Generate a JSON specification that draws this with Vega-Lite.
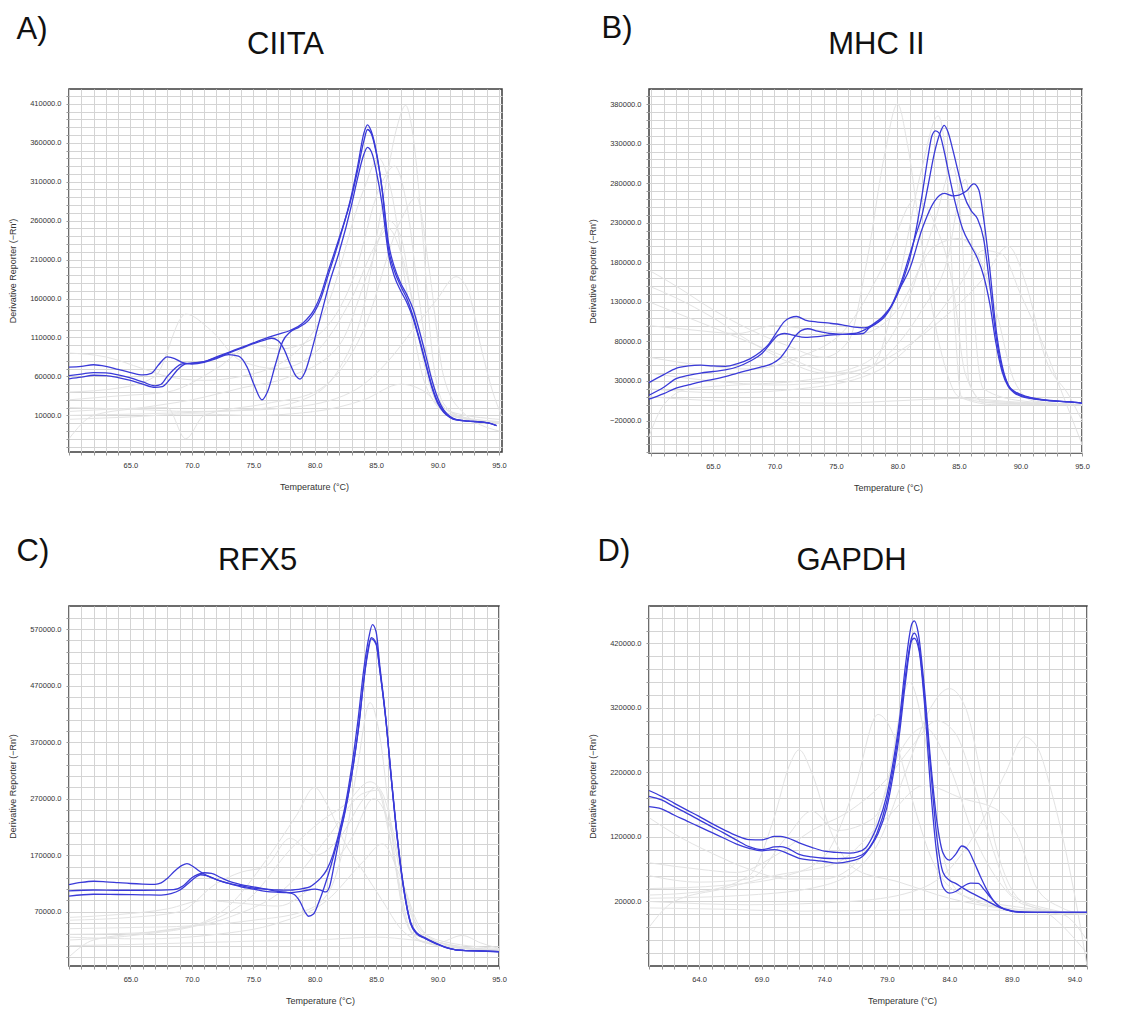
{
"$schema":"https://vega.github.io/schema/vega-lite/v6.json",
"background":"white",
"padding":{"left":7,"top":11,"right":5,"bottom":5},
"config":{
"axis":{"gridColor":"#d4d4d4","gridWidth":1,"domain":false,"tickColor":"#9a9a9a","tickSize":3,"labelFont":"Liberation Sans","labelFontSize":7.5,"labelColor":"#333333","labelOverlap":false,"titleFont":"Liberation Sans","titleFontSize":9,"titleFontWeight":"normal","titleColor":"#333333"},
"axisX":{"labelPadding":6,"titlePadding":14,"labelFlush":false},
"axisY":{"labelPadding":5,"minExtent":40,"maxExtent":40,"titlePadding":12},
"view":{"stroke":"#3c3c3c","strokeWidth":1.5},
"line":{"interpolate":"monotone","clip":true}
},
"datasets":{
"Ab":[
{"c":1,"t":60,"v":72000},{"c":1,"t":61,"v":73000},{"c":1,"t":62,"v":75000},{"c":1,"t":63,"v":73000},{"c":1,"t":64,"v":69000},{"c":1,"t":65,"v":65000},{"c":1,"t":66,"v":62000},{"c":1,"t":66.7,"v":64000},{"c":1,"t":67.3,"v":75000},{"c":1,"t":68,"v":85000},{"c":1,"t":68.6,"v":83000},{"c":1,"t":69.2,"v":78000},{"c":1,"t":70,"v":76000},{"c":1,"t":71,"v":78000},{"c":1,"t":72,"v":83000},{"c":1,"t":73,"v":88000},{"c":1,"t":73.8,"v":86000},{"c":1,"t":74.5,"v":72000},{"c":1,"t":75.1,"v":48000},{"c":1,"t":75.7,"v":30000},{"c":1,"t":76.2,"v":42000},{"c":1,"t":76.8,"v":75000},{"c":1,"t":77.4,"v":105000},{"c":1,"t":78,"v":117000},{"c":1,"t":78.7,"v":123000},{"c":1,"t":79.5,"v":132000},{"c":1,"t":80,"v":143000},{"c":1,"t":80.5,"v":160000},{"c":1,"t":81,"v":185000},{"c":1,"t":82,"v":235000},{"c":1,"t":83,"v":293000},{"c":1,"t":83.5,"v":330000},{"c":1,"t":84,"v":372000},{"c":1,"t":84.3,"v":383000},{"c":1,"t":84.6,"v":375000},{"c":1,"t":85,"v":350000},{"c":1,"t":85.5,"v":300000},{"c":1,"t":86,"v":232000},{"c":1,"t":86.5,"v":200000},{"c":1,"t":87,"v":180000},{"c":1,"t":87.5,"v":165000},{"c":1,"t":88,"v":147000},{"c":1,"t":88.5,"v":120000},{"c":1,"t":89,"v":90000},{"c":1,"t":89.5,"v":58000},{"c":1,"t":90,"v":33000},{"c":1,"t":90.5,"v":17000},{"c":1,"t":91,"v":9000},{"c":1,"t":91.5,"v":5000},{"c":1,"t":92.5,"v":2700},{"c":1,"t":93.5,"v":1500},{"c":1,"t":94.2,"v":0},{"c":1,"t":94.8,"v":-3000},
{"c":2,"t":60,"v":61000},{"c":2,"t":61,"v":63000},{"c":2,"t":62,"v":65000},{"c":2,"t":63,"v":64500},{"c":2,"t":64,"v":62000},{"c":2,"t":65,"v":58000},{"c":2,"t":66,"v":53000},{"c":2,"t":67,"v":48000},{"c":2,"t":67.5,"v":50000},{"c":2,"t":68,"v":60000},{"c":2,"t":68.6,"v":70000},{"c":2,"t":69.2,"v":76000},{"c":2,"t":70,"v":77000},{"c":2,"t":71,"v":79000},{"c":2,"t":72,"v":85000},{"c":2,"t":73,"v":91000},{"c":2,"t":74,"v":97000},{"c":2,"t":75,"v":103000},{"c":2,"t":76,"v":109000},{"c":2,"t":77,"v":114000},{"c":2,"t":78,"v":119000},{"c":2,"t":79,"v":128000},{"c":2,"t":80,"v":147000},{"c":2,"t":80.5,"v":165000},{"c":2,"t":81,"v":190000},{"c":2,"t":82,"v":238000},{"c":2,"t":83,"v":290000},{"c":2,"t":83.5,"v":325000},{"c":2,"t":84,"v":362000},{"c":2,"t":84.3,"v":377000},{"c":2,"t":84.6,"v":372000},{"c":2,"t":85,"v":348000},{"c":2,"t":85.5,"v":298000},{"c":2,"t":86,"v":225000},{"c":2,"t":86.5,"v":195000},{"c":2,"t":87,"v":176000},{"c":2,"t":87.5,"v":160000},{"c":2,"t":88,"v":138000},{"c":2,"t":88.5,"v":110000},{"c":2,"t":89,"v":80000},{"c":2,"t":89.5,"v":50000},{"c":2,"t":90,"v":28000},{"c":2,"t":90.5,"v":15000},{"c":2,"t":91,"v":8000},{"c":2,"t":91.5,"v":4500},{"c":2,"t":92.5,"v":2700},{"c":2,"t":93.5,"v":1500},{"c":2,"t":94.2,"v":0},{"c":2,"t":94.8,"v":-3000},
{"c":3,"t":60,"v":57000},{"c":3,"t":61,"v":59000},{"c":3,"t":62,"v":61500},{"c":3,"t":63,"v":61000},{"c":3,"t":64,"v":58500},{"c":3,"t":65,"v":55000},{"c":3,"t":66,"v":50000},{"c":3,"t":67,"v":46000},{"c":3,"t":67.6,"v":47000},{"c":3,"t":68.2,"v":56000},{"c":3,"t":68.8,"v":68000},{"c":3,"t":69.5,"v":76000},{"c":3,"t":70,"v":77000},{"c":3,"t":71,"v":79000},{"c":3,"t":72,"v":84000},{"c":3,"t":73,"v":90000},{"c":3,"t":74,"v":96000},{"c":3,"t":75,"v":102000},{"c":3,"t":76,"v":107000},{"c":3,"t":76.5,"v":109000},{"c":3,"t":77,"v":106000},{"c":3,"t":77.5,"v":95000},{"c":3,"t":78,"v":76000},{"c":3,"t":78.5,"v":60000},{"c":3,"t":78.8,"v":56500},{"c":3,"t":79.2,"v":65000},{"c":3,"t":79.7,"v":90000},{"c":3,"t":80.2,"v":120000},{"c":3,"t":80.7,"v":150000},{"c":3,"t":81.2,"v":180000},{"c":3,"t":82,"v":220000},{"c":3,"t":83,"v":280000},{"c":3,"t":83.5,"v":315000},{"c":3,"t":84,"v":345000},{"c":3,"t":84.3,"v":354000},{"c":3,"t":84.7,"v":345000},{"c":3,"t":85,"v":325000},{"c":3,"t":85.5,"v":280000},{"c":3,"t":86,"v":218000},{"c":3,"t":86.5,"v":188000},{"c":3,"t":87,"v":170000},{"c":3,"t":87.5,"v":155000},{"c":3,"t":88,"v":135000},{"c":3,"t":88.5,"v":108000},{"c":3,"t":89,"v":78000},{"c":3,"t":89.5,"v":48000},{"c":3,"t":90,"v":26000},{"c":3,"t":90.5,"v":14000},{"c":3,"t":91,"v":7500},{"c":3,"t":91.5,"v":4200},{"c":3,"t":92.5,"v":2700},{"c":3,"t":93.5,"v":1500},{"c":3,"t":94.2,"v":0},{"c":3,"t":94.8,"v":-3000}
],
"Ag":[
{"c":1,"t":60,"v":20000},{"c":1,"t":65,"v":18000},{"c":1,"t":70,"v":15000},{"c":1,"t":75,"v":18000},{"c":1,"t":79,"v":30000},{"c":1,"t":82,"v":70000},{"c":1,"t":84,"v":150000},{"c":1,"t":85.5,"v":280000},{"c":1,"t":86.7,"v":380000},{"c":1,"t":87.4,"v":408000},{"c":1,"t":88,"v":370000},{"c":1,"t":88.8,"v":240000},{"c":1,"t":89.5,"v":100000},{"c":1,"t":90.5,"v":25000},{"c":1,"t":92,"v":8000},{"c":1,"t":95,"v":0},
{"c":2,"t":60,"v":40000},{"c":2,"t":64,"v":45000},{"c":2,"t":67,"v":60000},{"c":2,"t":69.5,"v":140000},{"c":2,"t":71.5,"v":120000},{"c":2,"t":74,"v":80000},{"c":2,"t":77,"v":70000},{"c":2,"t":80,"v":90000},{"c":2,"t":83,"v":160000},{"c":2,"t":85,"v":230000},{"c":2,"t":86,"v":250000},{"c":2,"t":87,"v":220000},{"c":2,"t":88.5,"v":120000},{"c":2,"t":90,"v":30000},{"c":2,"t":92,"v":8000},{"c":2,"t":95,"v":2000},
{"c":3,"t":60,"v":10000},{"c":3,"t":66,"v":12000},{"c":3,"t":72,"v":15000},{"c":3,"t":78,"v":20000},{"c":3,"t":83,"v":40000},{"c":3,"t":86,"v":80000},{"c":3,"t":88,"v":120000},{"c":3,"t":90,"v":160000},{"c":3,"t":91.5,"v":188000},{"c":3,"t":92.5,"v":170000},{"c":3,"t":93.5,"v":100000},{"c":3,"t":94.5,"v":40000},{"c":3,"t":95.2,"v":10000},
{"c":4,"t":60,"v":30000},{"c":4,"t":64,"v":35000},{"c":4,"t":68,"v":40000},{"c":4,"t":72,"v":70000},{"c":4,"t":75,"v":100000},{"c":4,"t":77,"v":95000},{"c":4,"t":80,"v":110000},{"c":4,"t":83,"v":180000},{"c":4,"t":85.5,"v":310000},{"c":4,"t":86.5,"v":330000},{"c":4,"t":87.5,"v":280000},{"c":4,"t":88.5,"v":160000},{"c":4,"t":89.5,"v":60000},{"c":4,"t":91,"v":15000},{"c":4,"t":95,"v":5000},
{"c":5,"t":60,"v":5000},{"c":5,"t":65,"v":8000},{"c":5,"t":70,"v":12000},{"c":5,"t":75,"v":10000},{"c":5,"t":80,"v":15000},{"c":5,"t":84,"v":30000},{"c":5,"t":87,"v":50000},{"c":5,"t":89,"v":40000},{"c":5,"t":91,"v":10000},{"c":5,"t":95,"v":2000},
{"c":6,"t":60,"v":-20000},{"c":6,"t":62,"v":10000},{"c":6,"t":66,"v":20000},{"c":6,"t":70,"v":30000},{"c":6,"t":74,"v":45000},{"c":6,"t":78,"v":60000},{"c":6,"t":82,"v":100000},{"c":6,"t":84.5,"v":200000},{"c":6,"t":86,"v":260000},{"c":6,"t":87,"v":240000},{"c":6,"t":88,"v":150000},{"c":6,"t":89,"v":70000},{"c":6,"t":90.5,"v":15000},{"c":6,"t":95,"v":0},
{"c":7,"t":60,"v":90000},{"c":7,"t":63,"v":85000},{"c":7,"t":66,"v":70000},{"c":7,"t":68,"v":60000},{"c":7,"t":71,"v":55000},{"c":7,"t":74,"v":60000},{"c":7,"t":78,"v":85000},{"c":7,"t":81,"v":150000},{"c":7,"t":84,"v":300000},{"c":7,"t":85.2,"v":340000},{"c":7,"t":86.2,"v":300000},{"c":7,"t":87.5,"v":170000},{"c":7,"t":89,"v":50000},{"c":7,"t":91,"v":10000},{"c":7,"t":95,"v":0},
{"c":8,"t":60,"v":15000},{"c":8,"t":68,"v":20000},{"c":8,"t":69.5,"v":-20000},{"c":8,"t":71,"v":10000},{"c":8,"t":76,"v":25000},{"c":8,"t":80,"v":40000},{"c":8,"t":84,"v":120000},{"c":8,"t":87,"v":260000},{"c":8,"t":88.3,"v":290000},{"c":8,"t":89.3,"v":200000},{"c":8,"t":90.5,"v":60000},{"c":8,"t":92,"v":15000},{"c":8,"t":95,"v":-10000}
],
"Bb":[
{"c":1,"t":59.8,"v":28000},{"c":1,"t":61,"v":38000},{"c":1,"t":62,"v":46000},{"c":1,"t":63,"v":49000},{"c":1,"t":64,"v":50000},{"c":1,"t":65,"v":49000},{"c":1,"t":66,"v":48500},{"c":1,"t":67,"v":52000},{"c":1,"t":68,"v":58000},{"c":1,"t":68.8,"v":66000},{"c":1,"t":69.5,"v":76000},{"c":1,"t":70.2,"v":92000},{"c":1,"t":70.8,"v":105000},{"c":1,"t":71.3,"v":110000},{"c":1,"t":71.8,"v":111500},{"c":1,"t":72.5,"v":107000},{"c":1,"t":73.5,"v":104500},{"c":1,"t":74.5,"v":103000},{"c":1,"t":75.5,"v":101000},{"c":1,"t":76.5,"v":98000},{"c":1,"t":77.3,"v":97000},{"c":1,"t":78,"v":101000},{"c":1,"t":79,"v":112000},{"c":1,"t":80,"v":140000},{"c":1,"t":80.5,"v":160000},{"c":1,"t":81,"v":185000},{"c":1,"t":81.5,"v":220000},{"c":1,"t":82,"v":265000},{"c":1,"t":82.5,"v":315000},{"c":1,"t":82.8,"v":340000},{"c":1,"t":83.1,"v":346000},{"c":1,"t":83.4,"v":343000},{"c":1,"t":83.8,"v":320000},{"c":1,"t":84.2,"v":290000},{"c":1,"t":84.7,"v":255000},{"c":1,"t":85.3,"v":222000},{"c":1,"t":86,"v":200000},{"c":1,"t":86.5,"v":185000},{"c":1,"t":87,"v":163000},{"c":1,"t":87.5,"v":128000},{"c":1,"t":88,"v":78000},{"c":1,"t":88.5,"v":42000},{"c":1,"t":89,"v":23000},{"c":1,"t":89.5,"v":15000},{"c":1,"t":90,"v":11000},{"c":1,"t":91,"v":7500},{"c":1,"t":92,"v":5500},{"c":1,"t":93,"v":4500},{"c":1,"t":94,"v":3500},{"c":1,"t":95,"v":2000},
{"c":2,"t":59.8,"v":12000},{"c":2,"t":61,"v":22000},{"c":2,"t":62,"v":33000},{"c":2,"t":63,"v":37000},{"c":2,"t":64,"v":40000},{"c":2,"t":65,"v":42000},{"c":2,"t":66,"v":44000},{"c":2,"t":67,"v":48000},{"c":2,"t":68,"v":55000},{"c":2,"t":69,"v":65000},{"c":2,"t":69.7,"v":78000},{"c":2,"t":70.3,"v":88000},{"c":2,"t":70.8,"v":90000},{"c":2,"t":71.5,"v":88000},{"c":2,"t":72.5,"v":85000},{"c":2,"t":73.5,"v":86000},{"c":2,"t":74.5,"v":88000},{"c":2,"t":75.5,"v":89000},{"c":2,"t":76.5,"v":90000},{"c":2,"t":77.5,"v":96000},{"c":2,"t":78.5,"v":105000},{"c":2,"t":79.5,"v":125000},{"c":2,"t":80.3,"v":155000},{"c":2,"t":81,"v":190000},{"c":2,"t":81.5,"v":215000},{"c":2,"t":82,"v":240000},{"c":2,"t":82.5,"v":278000},{"c":2,"t":83,"v":318000},{"c":2,"t":83.5,"v":345000},{"c":2,"t":83.8,"v":353000},{"c":2,"t":84.1,"v":345000},{"c":2,"t":84.5,"v":322000},{"c":2,"t":85,"v":290000},{"c":2,"t":85.4,"v":265000},{"c":2,"t":86,"v":245000},{"c":2,"t":86.5,"v":235000},{"c":2,"t":87,"v":210000},{"c":2,"t":87.5,"v":152000},{"c":2,"t":88,"v":88000},{"c":2,"t":88.5,"v":46000},{"c":2,"t":89,"v":25000},{"c":2,"t":89.5,"v":17000},{"c":2,"t":90,"v":13000},{"c":2,"t":91,"v":8500},{"c":2,"t":92,"v":6000},{"c":2,"t":93,"v":4500},{"c":2,"t":94,"v":3500},{"c":2,"t":95,"v":2000},
{"c":3,"t":59.8,"v":7000},{"c":3,"t":61,"v":14000},{"c":3,"t":62,"v":21000},{"c":3,"t":63,"v":25000},{"c":3,"t":64,"v":29000},{"c":3,"t":65,"v":32000},{"c":3,"t":66,"v":35500},{"c":3,"t":67,"v":40000},{"c":3,"t":68,"v":44000},{"c":3,"t":69,"v":48000},{"c":3,"t":69.8,"v":52000},{"c":3,"t":70.4,"v":58000},{"c":3,"t":71,"v":70000},{"c":3,"t":71.6,"v":85000},{"c":3,"t":72.2,"v":94000},{"c":3,"t":72.7,"v":96000},{"c":3,"t":73.5,"v":93000},{"c":3,"t":74.5,"v":90000},{"c":3,"t":75.5,"v":89000},{"c":3,"t":76.5,"v":89000},{"c":3,"t":77.2,"v":90000},{"c":3,"t":77.8,"v":99000},{"c":3,"t":78.7,"v":110000},{"c":3,"t":79.5,"v":125000},{"c":3,"t":80.3,"v":150000},{"c":3,"t":81,"v":172000},{"c":3,"t":82,"v":222000},{"c":3,"t":83,"v":257000},{"c":3,"t":83.8,"v":267000},{"c":3,"t":84.5,"v":264000},{"c":3,"t":85,"v":265000},{"c":3,"t":85.6,"v":270000},{"c":3,"t":86.2,"v":279000},{"c":3,"t":86.6,"v":272000},{"c":3,"t":87,"v":236000},{"c":3,"t":87.5,"v":172000},{"c":3,"t":88,"v":97000},{"c":3,"t":88.5,"v":50000},{"c":3,"t":89,"v":25000},{"c":3,"t":89.5,"v":16000},{"c":3,"t":90,"v":12000},{"c":3,"t":91,"v":8000},{"c":3,"t":92,"v":5800},{"c":3,"t":93,"v":4500},{"c":3,"t":94,"v":3500},{"c":3,"t":95,"v":2000}
],
"Bg":[
{"c":1,"t":59.8,"v":170000},{"c":1,"t":62,"v":150000},{"c":1,"t":65,"v":120000},{"c":1,"t":68,"v":95000},{"c":1,"t":71,"v":75000},{"c":1,"t":74,"v":60000},{"c":1,"t":76,"v":80000},{"c":1,"t":77.5,"v":180000},{"c":1,"t":79,"v":320000},{"c":1,"t":80,"v":380000},{"c":1,"t":80.8,"v":330000},{"c":1,"t":82,"v":200000},{"c":1,"t":83.5,"v":70000},{"c":1,"t":85,"v":10000},{"c":1,"t":88,"v":0},{"c":1,"t":95,"v":0},
{"c":2,"t":59.8,"v":130000},{"c":2,"t":63,"v":110000},{"c":2,"t":67,"v":85000},{"c":2,"t":71,"v":60000},{"c":2,"t":75,"v":40000},{"c":2,"t":78,"v":50000},{"c":2,"t":80,"v":150000},{"c":2,"t":82,"v":300000},{"c":2,"t":83.3,"v":365000},{"c":2,"t":84,"v":300000},{"c":2,"t":84.6,"v":120000},{"c":2,"t":85.2,"v":10000},{"c":2,"t":88,"v":2000},{"c":2,"t":95,"v":0},
{"c":3,"t":59.8,"v":60000},{"c":3,"t":64,"v":50000},{"c":3,"t":68,"v":45000},{"c":3,"t":72,"v":60000},{"c":3,"t":76,"v":100000},{"c":3,"t":79,"v":180000},{"c":3,"t":81.5,"v":260000},{"c":3,"t":83,"v":230000},{"c":3,"t":84.5,"v":150000},{"c":3,"t":85.5,"v":40000},{"c":3,"t":87,"v":5000},{"c":3,"t":95,"v":0},
{"c":4,"t":59.8,"v":100000},{"c":4,"t":63,"v":95000},{"c":4,"t":67,"v":90000},{"c":4,"t":70,"v":100000},{"c":4,"t":73,"v":95000},{"c":4,"t":77,"v":90000},{"c":4,"t":80,"v":120000},{"c":4,"t":83,"v":200000},{"c":4,"t":85,"v":210000},{"c":4,"t":86.5,"v":190000},{"c":4,"t":88,"v":120000},{"c":4,"t":89.5,"v":30000},{"c":4,"t":91,"v":5000},{"c":4,"t":95,"v":0},
{"c":5,"t":59.8,"v":20000},{"c":5,"t":66,"v":15000},{"c":5,"t":72,"v":20000},{"c":5,"t":78,"v":40000},{"c":5,"t":82,"v":90000},{"c":5,"t":85,"v":150000},{"c":5,"t":87,"v":195000},{"c":5,"t":88.5,"v":190000},{"c":5,"t":90,"v":140000},{"c":5,"t":92,"v":70000},{"c":5,"t":93.5,"v":10000},{"c":5,"t":95,"v":-50000},
{"c":6,"t":59.8,"v":10000},{"c":6,"t":65,"v":5000},{"c":6,"t":70,"v":3000},{"c":6,"t":75,"v":2000},{"c":6,"t":80,"v":5000},{"c":6,"t":85,"v":8000},{"c":6,"t":90,"v":3000},{"c":6,"t":95,"v":0},
{"c":7,"t":59.8,"v":150000},{"c":7,"t":62,"v":135000},{"c":7,"t":65,"v":110000},{"c":7,"t":68,"v":80000},{"c":7,"t":71,"v":55000},{"c":7,"t":74,"v":40000},{"c":7,"t":77,"v":50000},{"c":7,"t":80,"v":100000},{"c":7,"t":83,"v":230000},{"c":7,"t":84.5,"v":300000},{"c":7,"t":85.3,"v":200000},{"c":7,"t":85.8,"v":30000},{"c":7,"t":87,"v":3000},{"c":7,"t":95,"v":0},
{"c":8,"t":59.8,"v":40000},{"c":8,"t":65,"v":30000},{"c":8,"t":70,"v":25000},{"c":8,"t":75,"v":30000},{"c":8,"t":79,"v":60000},{"c":8,"t":82,"v":120000},{"c":8,"t":84,"v":180000},{"c":8,"t":85.5,"v":285000},{"c":8,"t":86,"v":230000},{"c":8,"t":86.3,"v":100000},{"c":8,"t":87,"v":20000},{"c":8,"t":90,"v":5000},{"c":8,"t":95,"v":0},
{"c":9,"t":59.8,"v":-40000},{"c":9,"t":61,"v":0},{"c":9,"t":63,"v":20000},{"c":9,"t":67,"v":25000},{"c":9,"t":72,"v":30000},{"c":9,"t":78,"v":50000},{"c":9,"t":83,"v":100000},{"c":9,"t":87,"v":160000},{"c":9,"t":89,"v":200000},{"c":9,"t":90.5,"v":150000},{"c":9,"t":92,"v":60000},{"c":9,"t":94,"v":10000},{"c":9,"t":95,"v":-20000}
],
"Cb":[
{"c":1,"t":60,"v":118000},{"c":1,"t":61,"v":122000},{"c":1,"t":62,"v":124000},{"c":1,"t":63,"v":123000},{"c":1,"t":64,"v":121500},{"c":1,"t":65,"v":120000},{"c":1,"t":66,"v":119000},{"c":1,"t":67,"v":118500},{"c":1,"t":67.5,"v":121000},{"c":1,"t":68,"v":129000},{"c":1,"t":68.6,"v":142000},{"c":1,"t":69.2,"v":152000},{"c":1,"t":69.6,"v":155000},{"c":1,"t":70.1,"v":150000},{"c":1,"t":70.6,"v":142000},{"c":1,"t":71.3,"v":133000},{"c":1,"t":72,"v":127000},{"c":1,"t":73,"v":120000},{"c":1,"t":74,"v":116000},{"c":1,"t":75,"v":112000},{"c":1,"t":76,"v":110000},{"c":1,"t":77,"v":108500},{"c":1,"t":78,"v":108400},{"c":1,"t":79,"v":111000},{"c":1,"t":79.6,"v":114000},{"c":1,"t":80,"v":120000},{"c":1,"t":80.5,"v":130000},{"c":1,"t":81,"v":145000},{"c":1,"t":81.5,"v":172000},{"c":1,"t":82,"v":212000},{"c":1,"t":82.5,"v":260000},{"c":1,"t":83,"v":325000},{"c":1,"t":83.5,"v":405000},{"c":1,"t":84,"v":500000},{"c":1,"t":84.4,"v":555000},{"c":1,"t":84.7,"v":578000},{"c":1,"t":85,"v":565000},{"c":1,"t":85.3,"v":505000},{"c":1,"t":85.8,"v":410000},{"c":1,"t":86.3,"v":293000},{"c":1,"t":86.8,"v":188000},{"c":1,"t":87.3,"v":105000},{"c":1,"t":87.8,"v":52000},{"c":1,"t":88.3,"v":33000},{"c":1,"t":89,"v":24000},{"c":1,"t":89.5,"v":18000},{"c":1,"t":90,"v":13000},{"c":1,"t":90.5,"v":8500},{"c":1,"t":91,"v":5000},{"c":1,"t":91.5,"v":2500},{"c":1,"t":92.5,"v":1200},{"c":1,"t":93.5,"v":600},{"c":1,"t":95,"v":-500},
{"c":2,"t":60,"v":107000},{"c":2,"t":62,"v":108500},{"c":2,"t":64,"v":108000},{"c":2,"t":66,"v":108000},{"c":2,"t":67.5,"v":108200},{"c":2,"t":68.5,"v":109000},{"c":2,"t":69.3,"v":116000},{"c":2,"t":70,"v":130000},{"c":2,"t":70.5,"v":136000},{"c":2,"t":71,"v":139000},{"c":2,"t":71.6,"v":138000},{"c":2,"t":72.3,"v":131000},{"c":2,"t":73,"v":124000},{"c":2,"t":74,"v":118000},{"c":2,"t":75,"v":114000},{"c":2,"t":76,"v":110000},{"c":2,"t":77,"v":106000},{"c":2,"t":77.8,"v":104000},{"c":2,"t":78.3,"v":101000},{"c":2,"t":78.8,"v":88000},{"c":2,"t":79.2,"v":70000},{"c":2,"t":79.5,"v":62000},{"c":2,"t":79.9,"v":66000},{"c":2,"t":80.3,"v":85000},{"c":2,"t":80.8,"v":115000},{"c":2,"t":81.3,"v":150000},{"c":2,"t":81.8,"v":190000},{"c":2,"t":82.3,"v":232000},{"c":2,"t":83,"v":310000},{"c":2,"t":83.5,"v":385000},{"c":2,"t":84,"v":480000},{"c":2,"t":84.3,"v":530000},{"c":2,"t":84.6,"v":555000},{"c":2,"t":85,"v":545000},{"c":2,"t":85.3,"v":498000},{"c":2,"t":85.8,"v":408000},{"c":2,"t":86.3,"v":290000},{"c":2,"t":86.8,"v":185000},{"c":2,"t":87.3,"v":103000},{"c":2,"t":87.8,"v":50000},{"c":2,"t":88.3,"v":32000},{"c":2,"t":89,"v":23000},{"c":2,"t":89.5,"v":17500},{"c":2,"t":90,"v":12500},{"c":2,"t":90.5,"v":8200},{"c":2,"t":91,"v":4800},{"c":2,"t":91.5,"v":2400},{"c":2,"t":92.5,"v":1100},{"c":2,"t":93.5,"v":500},{"c":2,"t":95,"v":-700},
{"c":3,"t":60,"v":97500},{"c":3,"t":62,"v":101000},{"c":3,"t":64,"v":100500},{"c":3,"t":66,"v":100000},{"c":3,"t":67.5,"v":99500},{"c":3,"t":68.3,"v":102000},{"c":3,"t":69,"v":108000},{"c":3,"t":69.7,"v":120000},{"c":3,"t":70.3,"v":131000},{"c":3,"t":70.7,"v":135500},{"c":3,"t":71.2,"v":134000},{"c":3,"t":72,"v":127000},{"c":3,"t":73,"v":120000},{"c":3,"t":74,"v":114000},{"c":3,"t":75,"v":110000},{"c":3,"t":76,"v":106000},{"c":3,"t":77,"v":104500},{"c":3,"t":78,"v":104000},{"c":3,"t":79,"v":106500},{"c":3,"t":80,"v":110000},{"c":3,"t":80.5,"v":108000},{"c":3,"t":80.9,"v":105000},{"c":3,"t":81.2,"v":114000},{"c":3,"t":81.6,"v":155000},{"c":3,"t":82,"v":200000},{"c":3,"t":82.5,"v":250000},{"c":3,"t":83.2,"v":338000},{"c":3,"t":83.6,"v":400000},{"c":3,"t":84,"v":480000},{"c":3,"t":84.3,"v":525000},{"c":3,"t":84.6,"v":553000},{"c":3,"t":85,"v":543000},{"c":3,"t":85.3,"v":497000},{"c":3,"t":85.8,"v":407000},{"c":3,"t":86.3,"v":290000},{"c":3,"t":86.8,"v":184000},{"c":3,"t":87.3,"v":102000},{"c":3,"t":87.8,"v":49000},{"c":3,"t":88.3,"v":31000},{"c":3,"t":89,"v":22500},{"c":3,"t":89.5,"v":17000},{"c":3,"t":90,"v":12000},{"c":3,"t":90.5,"v":8000},{"c":3,"t":91,"v":4600},{"c":3,"t":91.5,"v":2300},{"c":3,"t":92.5,"v":1000},{"c":3,"t":93.5,"v":400},{"c":3,"t":95,"v":-800}
],
"Cg":[
{"c":1,"t":60,"v":40000},{"c":1,"t":65,"v":42000},{"c":1,"t":70,"v":45000},{"c":1,"t":75,"v":55000},{"c":1,"t":79,"v":70000},{"c":1,"t":81,"v":100000},{"c":1,"t":82.5,"v":200000},{"c":1,"t":83.5,"v":330000},{"c":1,"t":84.5,"v":440000},{"c":1,"t":85.3,"v":380000},{"c":1,"t":86.2,"v":220000},{"c":1,"t":87.3,"v":60000},{"c":1,"t":88.5,"v":20000},{"c":1,"t":91,"v":8000},{"c":1,"t":95,"v":3000},
{"c":2,"t":60,"v":30000},{"c":2,"t":65,"v":32000},{"c":2,"t":70,"v":45000},{"c":2,"t":73,"v":80000},{"c":2,"t":76,"v":160000},{"c":2,"t":78.5,"v":240000},{"c":2,"t":80,"v":290000},{"c":2,"t":81,"v":260000},{"c":2,"t":82.5,"v":190000},{"c":2,"t":84,"v":140000},{"c":2,"t":85.5,"v":90000},{"c":2,"t":87,"v":40000},{"c":2,"t":89,"v":15000},{"c":2,"t":92,"v":5000},{"c":2,"t":95,"v":0},
{"c":3,"t":60,"v":20000},{"c":3,"t":66,"v":30000},{"c":3,"t":71,"v":50000},{"c":3,"t":75,"v":100000},{"c":3,"t":78,"v":180000},{"c":3,"t":80.5,"v":230000},{"c":3,"t":82.5,"v":260000},{"c":3,"t":84.5,"v":300000},{"c":3,"t":85.5,"v":280000},{"c":3,"t":86.5,"v":200000},{"c":3,"t":87.5,"v":90000},{"c":3,"t":89,"v":25000},{"c":3,"t":92,"v":8000},{"c":3,"t":95,"v":2000},
{"c":4,"t":60,"v":55000},{"c":4,"t":65,"v":60000},{"c":4,"t":69,"v":70000},{"c":4,"t":72,"v":120000},{"c":4,"t":74,"v":140000},{"c":4,"t":76,"v":150000},{"c":4,"t":78,"v":200000},{"c":4,"t":80,"v":170000},{"c":4,"t":82,"v":200000},{"c":4,"t":84,"v":270000},{"c":4,"t":85,"v":290000},{"c":4,"t":86.3,"v":180000},{"c":4,"t":87.5,"v":50000},{"c":4,"t":89,"v":15000},{"c":4,"t":95,"v":3000},
{"c":5,"t":60,"v":10000},{"c":5,"t":65,"v":12000},{"c":5,"t":70,"v":15000},{"c":5,"t":75,"v":18000},{"c":5,"t":80,"v":20000},{"c":5,"t":85,"v":25000},{"c":5,"t":88,"v":20000},{"c":5,"t":90,"v":15000},{"c":5,"t":92,"v":28000},{"c":5,"t":93.5,"v":15000},{"c":5,"t":95,"v":5000},
{"c":6,"t":60,"v":60000},{"c":6,"t":64,"v":65000},{"c":6,"t":68,"v":75000},{"c":6,"t":71,"v":90000},{"c":6,"t":74,"v":85000},{"c":6,"t":77,"v":80000},{"c":6,"t":80,"v":120000},{"c":6,"t":83,"v":200000},{"c":6,"t":84.8,"v":270000},{"c":6,"t":86,"v":230000},{"c":6,"t":87.2,"v":120000},{"c":6,"t":88.5,"v":40000},{"c":6,"t":91,"v":10000},{"c":6,"t":95,"v":0},
{"c":7,"t":60,"v":25000},{"c":7,"t":66,"v":22000},{"c":7,"t":72,"v":30000},{"c":7,"t":77,"v":50000},{"c":7,"t":81,"v":90000},{"c":7,"t":84,"v":160000},{"c":7,"t":85.5,"v":190000},{"c":7,"t":87,"v":130000},{"c":7,"t":88.5,"v":45000},{"c":7,"t":90,"v":20000},{"c":7,"t":95,"v":5000},
{"c":8,"t":60,"v":-10000},{"c":8,"t":62,"v":20000},{"c":8,"t":67,"v":35000},{"c":8,"t":73,"v":60000},{"c":8,"t":78,"v":120000},{"c":8,"t":81,"v":200000},{"c":8,"t":84,"v":280000},{"c":8,"t":85.2,"v":285000},{"c":8,"t":86.5,"v":160000},{"c":8,"t":88,"v":30000},{"c":8,"t":95,"v":0}
],
"Db":[
{"c":1,"t":60,"v":192000},{"c":1,"t":61,"v":183000},{"c":1,"t":62,"v":172500},{"c":1,"t":63,"v":162000},{"c":1,"t":64,"v":152000},{"c":1,"t":65,"v":141000},{"c":1,"t":66,"v":131000},{"c":1,"t":67,"v":122000},{"c":1,"t":68,"v":116000},{"c":1,"t":69,"v":115500},{"c":1,"t":69.5,"v":118000},{"c":1,"t":70,"v":120800},{"c":1,"t":70.5,"v":121000},{"c":1,"t":71,"v":119000},{"c":1,"t":72,"v":111000},{"c":1,"t":73,"v":104000},{"c":1,"t":74,"v":98000},{"c":1,"t":75,"v":96000},{"c":1,"t":76,"v":95000},{"c":1,"t":76.7,"v":97000},{"c":1,"t":77.3,"v":103000},{"c":1,"t":77.8,"v":118000},{"c":1,"t":78.3,"v":140000},{"c":1,"t":79,"v":185000},{"c":1,"t":79.5,"v":235000},{"c":1,"t":80,"v":299000},{"c":1,"t":80.5,"v":387000},{"c":1,"t":81,"v":450000},{"c":1,"t":81.2,"v":455000},{"c":1,"t":81.5,"v":438000},{"c":1,"t":82,"v":352000},{"c":1,"t":82.5,"v":238000},{"c":1,"t":83,"v":145000},{"c":1,"t":83.5,"v":95000},{"c":1,"t":84,"v":84000},{"c":1,"t":84.5,"v":93000},{"c":1,"t":85,"v":106000},{"c":1,"t":85.5,"v":100000},{"c":1,"t":86,"v":80000},{"c":1,"t":86.5,"v":58000},{"c":1,"t":87,"v":38000},{"c":1,"t":87.5,"v":22000},{"c":1,"t":88,"v":12000},{"c":1,"t":88.5,"v":8000},{"c":1,"t":89,"v":5500},{"c":1,"t":90,"v":3500},{"c":1,"t":92,"v":3000},{"c":1,"t":95,"v":3000},
{"c":2,"t":60,"v":183000},{"c":2,"t":61,"v":177500},{"c":2,"t":62,"v":167000},{"c":2,"t":63,"v":157000},{"c":2,"t":64,"v":146500},{"c":2,"t":65,"v":136000},{"c":2,"t":66,"v":126000},{"c":2,"t":67,"v":115000},{"c":2,"t":68,"v":105000},{"c":2,"t":69,"v":100500},{"c":2,"t":69.5,"v":102000},{"c":2,"t":70,"v":104500},{"c":2,"t":70.5,"v":105000},{"c":2,"t":71,"v":103000},{"c":2,"t":72,"v":93000},{"c":2,"t":73,"v":89000},{"c":2,"t":74,"v":87000},{"c":2,"t":75,"v":86500},{"c":2,"t":76,"v":87000},{"c":2,"t":77,"v":92000},{"c":2,"t":77.6,"v":103000},{"c":2,"t":78.2,"v":125000},{"c":2,"t":79,"v":175000},{"c":2,"t":79.5,"v":225000},{"c":2,"t":80,"v":289000},{"c":2,"t":80.5,"v":371000},{"c":2,"t":81,"v":430000},{"c":2,"t":81.2,"v":436000},{"c":2,"t":81.6,"v":412000},{"c":2,"t":82,"v":340000},{"c":2,"t":82.5,"v":227000},{"c":2,"t":83,"v":120000},{"c":2,"t":83.5,"v":65000},{"c":2,"t":84,"v":53000},{"c":2,"t":84.5,"v":48000},{"c":2,"t":85,"v":42000},{"c":2,"t":85.5,"v":36000},{"c":2,"t":86,"v":31000},{"c":2,"t":87,"v":21000},{"c":2,"t":88,"v":11000},{"c":2,"t":89,"v":5000},{"c":2,"t":90,"v":3300},{"c":2,"t":92,"v":3000},{"c":2,"t":95,"v":3000},
{"c":3,"t":60,"v":167000},{"c":3,"t":61,"v":163500},{"c":3,"t":62,"v":154000},{"c":3,"t":63,"v":145000},{"c":3,"t":64,"v":136000},{"c":3,"t":65,"v":127000},{"c":3,"t":66,"v":118000},{"c":3,"t":67,"v":109000},{"c":3,"t":68,"v":102500},{"c":3,"t":69,"v":98500},{"c":3,"t":69.5,"v":99500},{"c":3,"t":70,"v":100500},{"c":3,"t":70.5,"v":99000},{"c":3,"t":71,"v":95000},{"c":3,"t":72,"v":87000},{"c":3,"t":73,"v":84000},{"c":3,"t":74,"v":82000},{"c":3,"t":75,"v":79500},{"c":3,"t":76,"v":82000},{"c":3,"t":77,"v":89000},{"c":3,"t":77.7,"v":105000},{"c":3,"t":78.3,"v":125000},{"c":3,"t":79,"v":165000},{"c":3,"t":79.5,"v":215000},{"c":3,"t":80,"v":278000},{"c":3,"t":80.5,"v":361000},{"c":3,"t":81,"v":425000},{"c":3,"t":81.2,"v":428000},{"c":3,"t":81.6,"v":407000},{"c":3,"t":82,"v":330000},{"c":3,"t":82.5,"v":196000},{"c":3,"t":83,"v":93000},{"c":3,"t":83.5,"v":42000},{"c":3,"t":84,"v":33000},{"c":3,"t":84.5,"v":35500},{"c":3,"t":85,"v":42000},{"c":3,"t":85.7,"v":48500},{"c":3,"t":86.3,"v":48000},{"c":3,"t":86.8,"v":38000},{"c":3,"t":87.3,"v":26000},{"c":3,"t":88,"v":12500},{"c":3,"t":89,"v":4800},{"c":3,"t":90,"v":3200},{"c":3,"t":92,"v":3000},{"c":3,"t":95,"v":3000}
],
"Dg":[
{"c":1,"t":60,"v":30000},{"c":1,"t":64,"v":35000},{"c":1,"t":68,"v":60000},{"c":1,"t":70,"v":150000},{"c":1,"t":71.2,"v":230000},{"c":1,"t":72,"v":255000},{"c":1,"t":73,"v":220000},{"c":1,"t":74.5,"v":130000},{"c":1,"t":76.5,"v":70000},{"c":1,"t":80,"v":50000},{"c":1,"t":84,"v":25000},{"c":1,"t":88,"v":10000},{"c":1,"t":92,"v":5000},{"c":1,"t":95,"v":0},
{"c":2,"t":60,"v":40000},{"c":2,"t":66,"v":45000},{"c":2,"t":71,"v":60000},{"c":2,"t":74,"v":90000},{"c":2,"t":76.5,"v":200000},{"c":2,"t":78.3,"v":310000},{"c":2,"t":79.5,"v":280000},{"c":2,"t":81,"v":180000},{"c":2,"t":82.5,"v":90000},{"c":2,"t":85,"v":30000},{"c":2,"t":90,"v":10000},{"c":2,"t":95,"v":0},
{"c":3,"t":60,"v":25000},{"c":3,"t":68,"v":30000},{"c":3,"t":74,"v":45000},{"c":3,"t":78,"v":100000},{"c":3,"t":80.5,"v":220000},{"c":3,"t":82.5,"v":320000},{"c":3,"t":84,"v":350000},{"c":3,"t":85.3,"v":320000},{"c":3,"t":86.5,"v":220000},{"c":3,"t":87.8,"v":100000},{"c":3,"t":89.5,"v":25000},{"c":3,"t":92,"v":0},{"c":3,"t":95,"v":-60000},
{"c":4,"t":60,"v":150000},{"c":4,"t":62,"v":125000},{"c":4,"t":65,"v":95000},{"c":4,"t":68,"v":70000},{"c":4,"t":71,"v":55000},{"c":4,"t":74,"v":55000},{"c":4,"t":77,"v":90000},{"c":4,"t":79,"v":200000},{"c":4,"t":80.8,"v":360000},{"c":4,"t":82,"v":280000},{"c":4,"t":83.2,"v":120000},{"c":4,"t":84.5,"v":40000},{"c":4,"t":87,"v":15000},{"c":4,"t":95,"v":0},
{"c":5,"t":60,"v":20000},{"c":5,"t":68,"v":15000},{"c":5,"t":76,"v":20000},{"c":5,"t":81,"v":35000},{"c":5,"t":84,"v":70000},{"c":5,"t":86.5,"v":140000},{"c":5,"t":88.5,"v":220000},{"c":5,"t":90,"v":275000},{"c":5,"t":91,"v":260000},{"c":5,"t":92.3,"v":180000},{"c":5,"t":93.5,"v":80000},{"c":5,"t":94.3,"v":0},{"c":5,"t":95,"v":-80000},
{"c":6,"t":60,"v":10000},{"c":6,"t":66,"v":8000},{"c":6,"t":72,"v":5000},{"c":6,"t":78,"v":6000},{"c":6,"t":84,"v":8000},{"c":6,"t":90,"v":5000},{"c":6,"t":93,"v":0},{"c":6,"t":95,"v":-40000},
{"c":7,"t":60,"v":80000},{"c":7,"t":64,"v":70000},{"c":7,"t":67,"v":65000},{"c":7,"t":70,"v":90000},{"c":7,"t":73,"v":130000},{"c":7,"t":76,"v":160000},{"c":7,"t":79,"v":210000},{"c":7,"t":81,"v":260000},{"c":7,"t":83,"v":300000},{"c":7,"t":84.5,"v":280000},{"c":7,"t":86,"v":200000},{"c":7,"t":87.5,"v":100000},{"c":7,"t":89,"v":30000},{"c":7,"t":92,"v":8000},{"c":7,"t":95,"v":0},
{"c":8,"t":60,"v":60000},{"c":8,"t":64,"v":50000},{"c":8,"t":68,"v":55000},{"c":8,"t":71,"v":120000},{"c":8,"t":73,"v":160000},{"c":8,"t":75,"v":130000},{"c":8,"t":78,"v":150000},{"c":8,"t":80,"v":250000},{"c":8,"t":82,"v":290000},{"c":8,"t":84,"v":230000},{"c":8,"t":86,"v":120000},{"c":8,"t":88,"v":50000},{"c":8,"t":90,"v":15000},{"c":8,"t":95,"v":0},
{"c":9,"t":60,"v":-20000},{"c":9,"t":62,"v":20000},{"c":9,"t":66,"v":40000},{"c":9,"t":70,"v":60000},{"c":9,"t":75,"v":80000},{"c":9,"t":79,"v":150000},{"c":9,"t":82,"v":200000},{"c":9,"t":85,"v":180000},{"c":9,"t":88,"v":160000},{"c":9,"t":89.5,"v":120000},{"c":9,"t":91,"v":40000},{"c":9,"t":93,"v":10000},{"c":9,"t":95,"v":0}
]
},
"bounds":"flush",
"columns":2,
"spacing":{"row":153,"column":147},
"concat":[
{"width":433,"height":363,"resolve":{"axis":{"x":"independent","y":"independent"}},
"layer":[
{"data":{"name":"Ag"},"mark":{"type":"line","color":"#e3e3e3","strokeWidth":1},
"encoding":{
"x":{"field":"t","type":"quantitative","scale":{"domain":[60,95.25],"nice":false,"zero":false},"axis":{"grid":true,"values":[60,61,62,63,64,65,66,67,68,69,70,71,72,73,74,75,76,77,78,79,80,81,82,83,84,85,86,87,88,89,90,91,92,93,94,95],"labelExpr":"datum.value % 5 === 0 && datum.value > 60 ? format(datum.value, '.1f') : ''","title":"Temperature (°C)","titleX":245}},
"y":{"field":"v","type":"quantitative","scale":{"domain":[-37000,429000],"nice":false,"zero":false},"axis":{"grid":true,"values":[-30000,-20000,-10000,0,10000,20000,30000,40000,50000,60000,70000,80000,90000,100000,110000,120000,130000,140000,150000,160000,170000,180000,190000,200000,210000,220000,230000,240000,250000,260000,270000,280000,290000,300000,310000,320000,330000,340000,350000,360000,370000,380000,390000,400000,410000,420000],"labelExpr":"datum.value >= 10000 && (datum.value - 10000) % 50000 === 0 ? format(datum.value, '.1f') : ''","title":"Derivative Reporter (−Rn')"}},
"detail":{"field":"c","type":"nominal"}}},
{"data":{"name":"Ab"},"mark":{"type":"line","color":"#3a3ad8","strokeWidth":1.3},
"encoding":{
"x":{"field":"t","type":"quantitative","scale":{"domain":[60,95.25],"nice":false,"zero":false},"axis":{"orient":"top","grid":false,"labels":false,"ticks":false,"domain":false,"title":"CIITA","titleX":216,"titleY":-36,"titleAlign":"center","titleBaseline":"alphabetic","titleFontSize":31,"titleColor":"#111111"}},
"y":{"field":"v","type":"quantitative","scale":{"domain":[-37000,429000],"nice":false,"zero":false},"axis":{"orient":"right","grid":false,"labels":false,"ticks":false,"domain":false,"title":"A)","titleAngle":0,"titleX":-486,"titleY":-51,"titleAlign":"left","titleBaseline":"alphabetic","titleFontSize":31,"titleColor":"#111111"}},
"detail":{"field":"c","type":"nominal"}}}
]},
{"width":433,"height":364,"resolve":{"axis":{"x":"independent","y":"independent"}},
"layer":[
{"data":{"name":"Bg"},"mark":{"type":"line","color":"#e3e3e3","strokeWidth":1},
"encoding":{
"x":{"field":"t","type":"quantitative","scale":{"domain":[59.8,95],"nice":false,"zero":false},"axis":{"grid":true,"values":[60,61,62,63,64,65,66,67,68,69,70,71,72,73,74,75,76,77,78,79,80,81,82,83,84,85,86,87,88,89,90,91,92,93,94,95],"labelExpr":"datum.value % 5 === 0 && datum.value > 60 ? format(datum.value, '.1f') : ''","title":"Temperature (°C)","titleX":239}},
"y":{"field":"v","type":"quantitative","scale":{"domain":[-61000,399000],"nice":false,"zero":false},"axis":{"grid":true,"values":[-60000,-50000,-40000,-30000,-20000,-10000,0,10000,20000,30000,40000,50000,60000,70000,80000,90000,100000,110000,120000,130000,140000,150000,160000,170000,180000,190000,200000,210000,220000,230000,240000,250000,260000,270000,280000,290000,300000,310000,320000,330000,340000,350000,360000,370000,380000,390000],"labelExpr":"datum.value >= -20000 && datum.value <= 380000 && (datum.value + 20000) % 50000 === 0 ? format(datum.value, '.1f') : ''","title":"Derivative Reporter (−Rn')"}},
"detail":{"field":"c","type":"nominal"}}},
{"data":{"name":"Bb"},"mark":{"type":"line","color":"#3a3ad8","strokeWidth":1.3},
"encoding":{
"x":{"field":"t","type":"quantitative","scale":{"domain":[59.8,95],"nice":false,"zero":false},"axis":{"orient":"top","grid":false,"labels":false,"ticks":false,"domain":false,"title":"MHC II","titleX":227,"titleY":-36,"titleAlign":"center","titleBaseline":"alphabetic","titleFontSize":31,"titleColor":"#111111"}},
"y":{"field":"v","type":"quantitative","scale":{"domain":[-61000,399000],"nice":false,"zero":false},"axis":{"orient":"right","grid":false,"labels":false,"ticks":false,"domain":false,"title":"B)","titleAngle":0,"titleX":-481,"titleY":-52,"titleAlign":"left","titleBaseline":"alphabetic","titleFontSize":31,"titleColor":"#111111"}},
"detail":{"field":"c","type":"nominal"}}}
]},
{"width":430,"height":360,"resolve":{"axis":{"x":"independent","y":"independent"}},
"layer":[
{"data":{"name":"Cg"},"mark":{"type":"line","color":"#e3e3e3","strokeWidth":1},
"encoding":{
"x":{"field":"t","type":"quantitative","scale":{"domain":[60,95],"nice":false,"zero":false},"axis":{"grid":true,"values":[60,61,62,63,64,65,66,67,68,69,70,71,72,73,74,75,76,77,78,79,80,81,82,83,84,85,86,87,88,89,90,91,92,93,94,95],"labelExpr":"datum.value % 5 === 0 && datum.value > 60 ? format(datum.value, '.1f') : ''","title":"Temperature (°C)","titleX":251}},
"y":{"field":"v","type":"quantitative","scale":{"domain":[-26000,611000],"nice":false,"zero":false},"axis":{"grid":true,"values":[-10000,10000,30000,50000,70000,90000,110000,130000,150000,170000,190000,210000,230000,250000,270000,290000,310000,330000,350000,370000,390000,410000,430000,450000,470000,490000,510000,530000,550000,570000,590000],"labelExpr":"datum.value >= 70000 && (datum.value - 70000) % 100000 === 0 ? format(datum.value, '.1f') : ''","title":"Derivative Reporter (−Rn')"}},
"detail":{"field":"c","type":"nominal"}}},
{"data":{"name":"Cb"},"mark":{"type":"line","color":"#3a3ad8","strokeWidth":1.3},
"encoding":{
"x":{"field":"t","type":"quantitative","scale":{"domain":[60,95],"nice":false,"zero":false},"axis":{"orient":"top","grid":false,"labels":false,"ticks":false,"domain":false,"title":"RFX5","titleX":188,"titleY":-37,"titleAlign":"center","titleBaseline":"alphabetic","titleFontSize":31,"titleColor":"#111111"}},
"y":{"field":"v","type":"quantitative","scale":{"domain":[-26000,611000],"nice":false,"zero":false},"axis":{"orient":"right","grid":false,"labels":false,"ticks":false,"domain":false,"title":"C)","titleAngle":0,"titleX":-483,"titleY":-46,"titleAlign":"left","titleBaseline":"alphabetic","titleFontSize":31,"titleColor":"#111111"}},
"detail":{"field":"c","type":"nominal"}}}
]},
{"width":438,"height":360,"resolve":{"axis":{"x":"independent","y":"independent"}},
"layer":[
{"data":{"name":"Dg"},"mark":{"type":"line","color":"#e3e3e3","strokeWidth":1},
"encoding":{
"x":{"field":"t","type":"quantitative","scale":{"domain":[60,95],"nice":false,"zero":false},"axis":{"grid":true,"values":[60,61,62,63,64,65,66,67,68,69,70,71,72,73,74,75,76,77,78,79,80,81,82,83,84,85,86,87,88,89,90,91,92,93,94,95],"labelExpr":"(datum.value - 64) % 5 === 0 ? format(datum.value, '.1f') : ''","title":"Temperature (°C)","titleX":253}},
"y":{"field":"v","type":"quantitative","scale":{"domain":[-80000,478000],"nice":false,"zero":false},"axis":{"grid":true,"values":[-60000,-40000,-20000,0,20000,40000,60000,80000,100000,120000,140000,160000,180000,200000,220000,240000,260000,280000,300000,320000,340000,360000,380000,400000,420000,440000,460000],"labelExpr":"datum.value >= 20000 && (datum.value - 20000) % 100000 === 0 ? format(datum.value, '.1f') : ''","title":"Derivative Reporter (−Rn')"}},
"detail":{"field":"c","type":"nominal"}}},
{"data":{"name":"Db"},"mark":{"type":"line","color":"#3a3ad8","strokeWidth":1.3},
"encoding":{
"x":{"field":"t","type":"quantitative","scale":{"domain":[60,95],"nice":false,"zero":false},"axis":{"orient":"top","grid":false,"labels":false,"ticks":false,"domain":false,"title":"GAPDH","titleX":202,"titleY":-37,"titleAlign":"center","titleBaseline":"alphabetic","titleFontSize":31,"titleColor":"#111111"}},
"y":{"field":"v","type":"quantitative","scale":{"domain":[-80000,478000],"nice":false,"zero":false},"axis":{"orient":"right","grid":false,"labels":false,"ticks":false,"domain":false,"title":"D)","titleAngle":0,"titleX":-490,"titleY":-46,"titleAlign":"left","titleBaseline":"alphabetic","titleFontSize":31,"titleColor":"#111111"}},
"detail":{"field":"c","type":"nominal"}}}
]}
]
}
